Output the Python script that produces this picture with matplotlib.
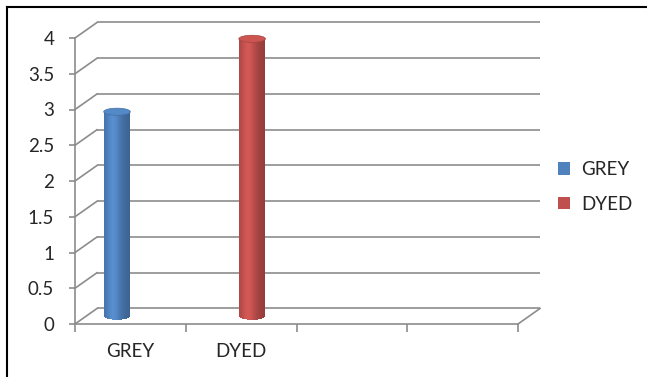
import numpy as np
import matplotlib
matplotlib.use("Agg")
import matplotlib.pyplot as plt
from matplotlib.patches import Ellipse, Patch
from matplotlib.lines import Line2D
from matplotlib.colors import to_rgb

plt.rcParams["font.family"] = ["Lato", "DejaVu Sans"]

# ---- data -------------------------------------------------------------
categories = ["GREY", "DYED", "", ""]
series_names = ["GREY", "DYED"]
series_values = [2.86, 3.88]          # one column per series
series_category = [0, 1]              # category index each column sits in
series_colors = ["#4F81BD", "#C0504D"]
y_ticks = [0, 0.5, 1, 1.5, 2, 2.5, 3, 3.5, 4]
y_tick_labels = ["0", "0.5", "1", "1.5", "2", "2.5", "3", "3.5", "4"]

# ---- layout / style ---------------------------------------------------
W, H = 647, 377
GRID = "#8c8c8c"
TEXT = "#262626"
FS = 13.5
series_offset = [-0.22, 0.0]          # horizontal placement inside category
col_width = 0.24
cap_height = 0.10                     # height of the elliptical caps
depth_x, depth_y = 0.1986, 0.217      # receding depth of the 3-D box

fig = plt.figure(figsize=(W / 100, H / 100), dpi=100)
ax = fig.add_axes([75 / W, 53 / H, 443 / W, 286 / H])
ax.set_xlim(0, len(categories))
ax.set_ylim(0, 4)
ax.patch.set_visible(False)

for s in ["top", "right"]:
    ax.spines[s].set_visible(False)
for s in ["left", "bottom"]:
    ax.spines[s].set_color(GRID)
    ax.spines[s].set_linewidth(1.2)

# y axis ticks
ax.set_yticks(y_ticks)
ax.set_yticklabels(y_tick_labels, fontsize=FS, color=TEXT)
ax.tick_params(axis="y", direction="out", length=4, width=1.2, color=GRID, pad=11)

# x axis: dividers between categories, labels in the middle
ax.set_xticks(np.arange(len(categories) + 1))
ax.set_xticklabels([])
ax.tick_params(axis="x", which="major", direction="out", length=5.8, width=1.2, color=GRID)
ax.set_xticks(np.arange(len(categories)) + 0.5, minor=True)
ax.set_xticklabels(categories, minor=True, fontsize=FS, color=TEXT)
ax.tick_params(axis="x", which="minor", length=0, pad=14)

# ---- 3-D box: back wall gridlines, side wall diagonals, floor edge ----
n_cat = len(categories)
for y in y_ticks:
    ax.plot([depth_x, n_cat + depth_x], [y + depth_y, y + depth_y],
            color=GRID, lw=1.2, clip_on=False, zorder=1, solid_capstyle="butt")
    ax.plot([0, depth_x], [y, y + depth_y], color=GRID, lw=1.2,
            clip_on=False, zorder=1)
ax.plot([n_cat, n_cat + depth_x], [0, depth_y], color=GRID, lw=1.2,
        clip_on=False, zorder=1)


# ---- cylinders --------------------------------------------------------
def shade(rgb, u):
    """Cylinder shading across the width; u runs from -1 (left) to 1 (right)."""
    hl = np.exp(-((u + 0.3) / 0.5) ** 2)
    dark = 0.86 - 0.10 * np.clip(u, 0, None) ** 1.5
    c = np.array(rgb) * dark
    c = c + (np.array(rgb) * 1.10 - c) * hl
    return tuple(np.clip(c, 0, 1))


N = 80
for val, cat, off, col in zip(series_values, series_category, series_offset, series_colors):
    rgb = to_rgb(col)
    cx = cat + 0.5 + off + depth_x / 2
    base = depth_y / 2
    edges = np.linspace(cx - col_width / 2, cx + col_width / 2, N + 1)
    mids = (edges[:-1] + edges[1:]) / 2
    u = (mids - cx) / (col_width / 2)
    sag = (cap_height / 2) * np.sqrt(np.clip(1 - u ** 2, 0, 1))
    colors = [shade(rgb, ui) for ui in u]
    ax.bar(mids, val + sag, bottom=base - sag, width=(col_width / N) * 1.4,
           color=colors, linewidth=0, clip_on=False, zorder=3)
    top_rgb = tuple(np.clip(np.array(rgb) * 1.06, 0, 1))
    edge_rgb = tuple(np.array(rgb) * 0.85)
    ax.add_patch(Ellipse((cx, base + val), col_width, cap_height,
                         facecolor=top_rgb, edgecolor=edge_rgb, lw=0.5,
                         clip_on=False, zorder=4))

# ---- legend -----------------------------------------------------------
handles = [Patch(facecolor=c, edgecolor="none") for c in series_colors]
fig.legend(handles, series_names, loc="center left",
           bbox_to_anchor=(558 / W, 1 - 187 / H), frameon=False,
           fontsize=FS, labelcolor=TEXT, handlelength=0.62, handleheight=0.62,
           handletextpad=0.6, labelspacing=0.95, borderpad=0, borderaxespad=0)

# ---- outer frame (top and left edges) ---------------------------------
fig.add_artist(Line2D([7 / W, 1], [1 - 6.5 / H, 1 - 6.5 / H], color="black", lw=1.5,
                      transform=fig.transFigure))
fig.add_artist(Line2D([7 / W, 7 / W], [0, 1 - 6.5 / H], color="black", lw=1.5,
                      transform=fig.transFigure))

fig.savefig("out.png", dpi=100)
